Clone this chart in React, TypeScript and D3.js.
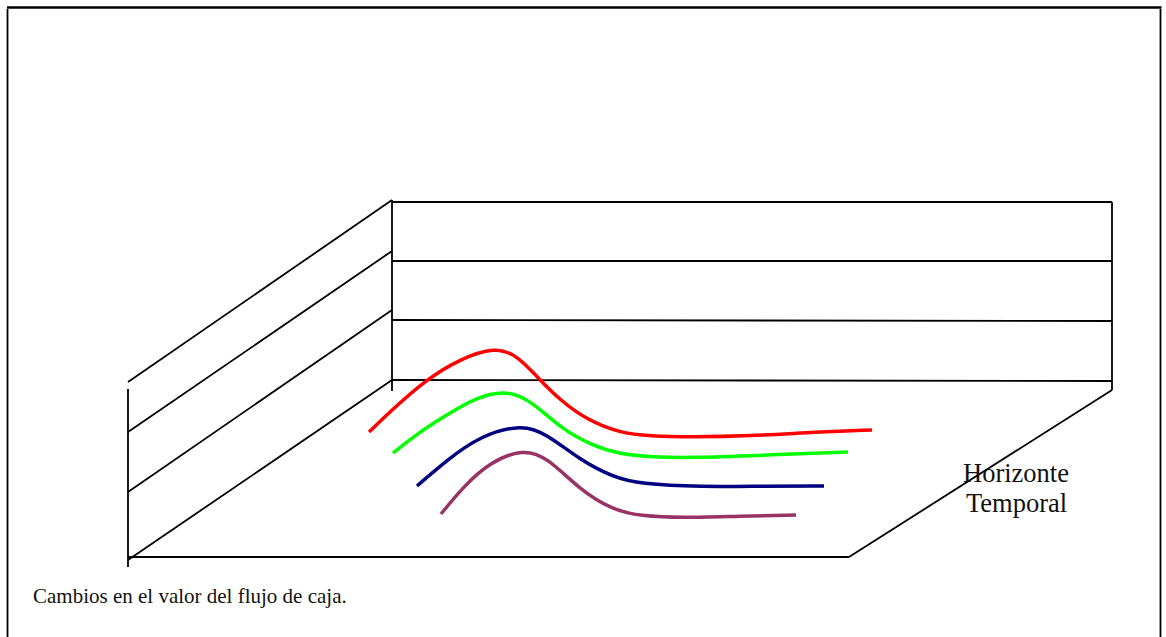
import React from "react";
import * as d3 from "d3";

// Drawing units: x = horizontal position (0..1000), y = height above floor front edge (0..400)
const redX = [257, 281, 315, 348, 383, 405, 428, 448, 475, 508, 538, 578, 638, 705, 760];
const redY = [125, 148, 178, 198, 210, 202, 177, 157, 137, 124, 121, 120, 121, 125, 127];
const greenX = [281, 305, 331, 365, 395, 421, 448, 481, 508, 540, 578, 655, 736];
const greenY = [104, 123, 140, 160, 167, 155, 129, 111, 103, 100, 99, 102, 105];
const blueX = [305, 335, 368, 410, 435, 468, 501, 528, 588, 655, 712];
const blueY = [71, 97, 121, 133, 123, 97, 80, 73, 70, 71, 71];
const purpleX = [329, 351, 378, 411, 435, 468, 501, 528, 571, 628, 684];
const purpleY = [43, 70, 95, 108, 100, 67, 47, 41, 39, 41, 42];

const seriesColors = ["#FF0000", "#00FF00", "#000080", "#993366"];

// back wall levels (left/right heights) and left-wall diagonals
const backLevelsLeft = [355, 296, 237, 177];
const backLevelsRight = [355, 296, 236, 176];
const diagBack = [357, 306, 247, 177];
const diagFront = [175, 125, 65, -3];

const axisLabel = ["Horizonte", "Temporal"];
const caption = "Cambios en el valor del flujo de caja.";

const W = 1166;
const H = 637;

export default function App() {
  const x = d3.scaleLinear().domain([0, 1000]).range([112, 1112]);
  const y = d3.scaleLinear().domain([0, 400]).range([557, 157]);

  const backL = 280;
  const backR = 1000;
  const frontL = 16;
  const floorFrontR = 737;

  const line = d3
    .line<[number, number]>()
    .x((d) => x(d[0]))
    .y((d) => y(d[1]))
    .curve(d3.curveBasis);

  const series = [
    [redX, redY],
    [greenX, greenY],
    [blueX, blueY],
    [purpleX, purpleY],
  ].map(([xs, ys]) => xs.map((v, i) => [v, ys[i]] as [number, number]));

  const seg = (x1: number, y1: number, x2: number, y2: number, key: string) => (
    <line key={key} x1={x(x1)} y1={y(y1)} x2={x(x2)} y2={y(y2)} stroke="#000" strokeWidth={1.8} />
  );

  return (
    <svg
      width={W}
      height={H}
      style={{ position: "absolute", left: 0, top: 0, background: "#fff" }}
    >
      {/* outer frame */}
      <line x1={7} y1={7.5} x2={1161.5} y2={7.5} stroke="#000" strokeWidth={2.5} />
      <line x1={7.5} y1={9} x2={7.5} y2={H} stroke="#000" strokeWidth={1.8} />
      <line x1={1160.5} y1={9} x2={1160.5} y2={H} stroke="#000" strokeWidth={1.8} />

      {/* back wall */}
      {seg(backL, 357, backL, 166, "bwl")}
      {seg(backR, 355, backR, 167, "bwr")}
      {backLevelsLeft.map((v, i) => seg(backL, v, backR, backLevelsRight[i], "bl" + i))}

      {/* left wall */}
      {diagBack.map((v, i) => seg(backL, v, frontL, diagFront[i], "dl" + i))}
      {seg(frontL, 168, frontL, -10, "fl")}

      {/* floor */}
      {seg(frontL, 0, floorFrontR, 0, "ff")}
      {seg(backR, 167, floorFrontR, 0, "fr")}

      {/* series */}
      {series.map((pts, i) => (
        <path
          key={"s" + i}
          d={line(pts) || ""}
          fill="none"
          stroke={seriesColors[i]}
          strokeWidth={3.5}
        />
      ))}

      <text
        fontFamily="'Liberation Serif', 'Times New Roman', serif"
        fontSize={26.5}
        fill="#111"
      >
        <tspan x={963} y={482}>{axisLabel[0]}</tspan>
        <tspan x={966} y={512}>{axisLabel[1]}</tspan>
      </text>
      <text
        x={33}
        y={603}
        fontFamily="'Liberation Serif', 'Times New Roman', serif"
        fontSize={21}
        fill="#111"
      >
        {caption}
      </text>
    </svg>
  );
}
